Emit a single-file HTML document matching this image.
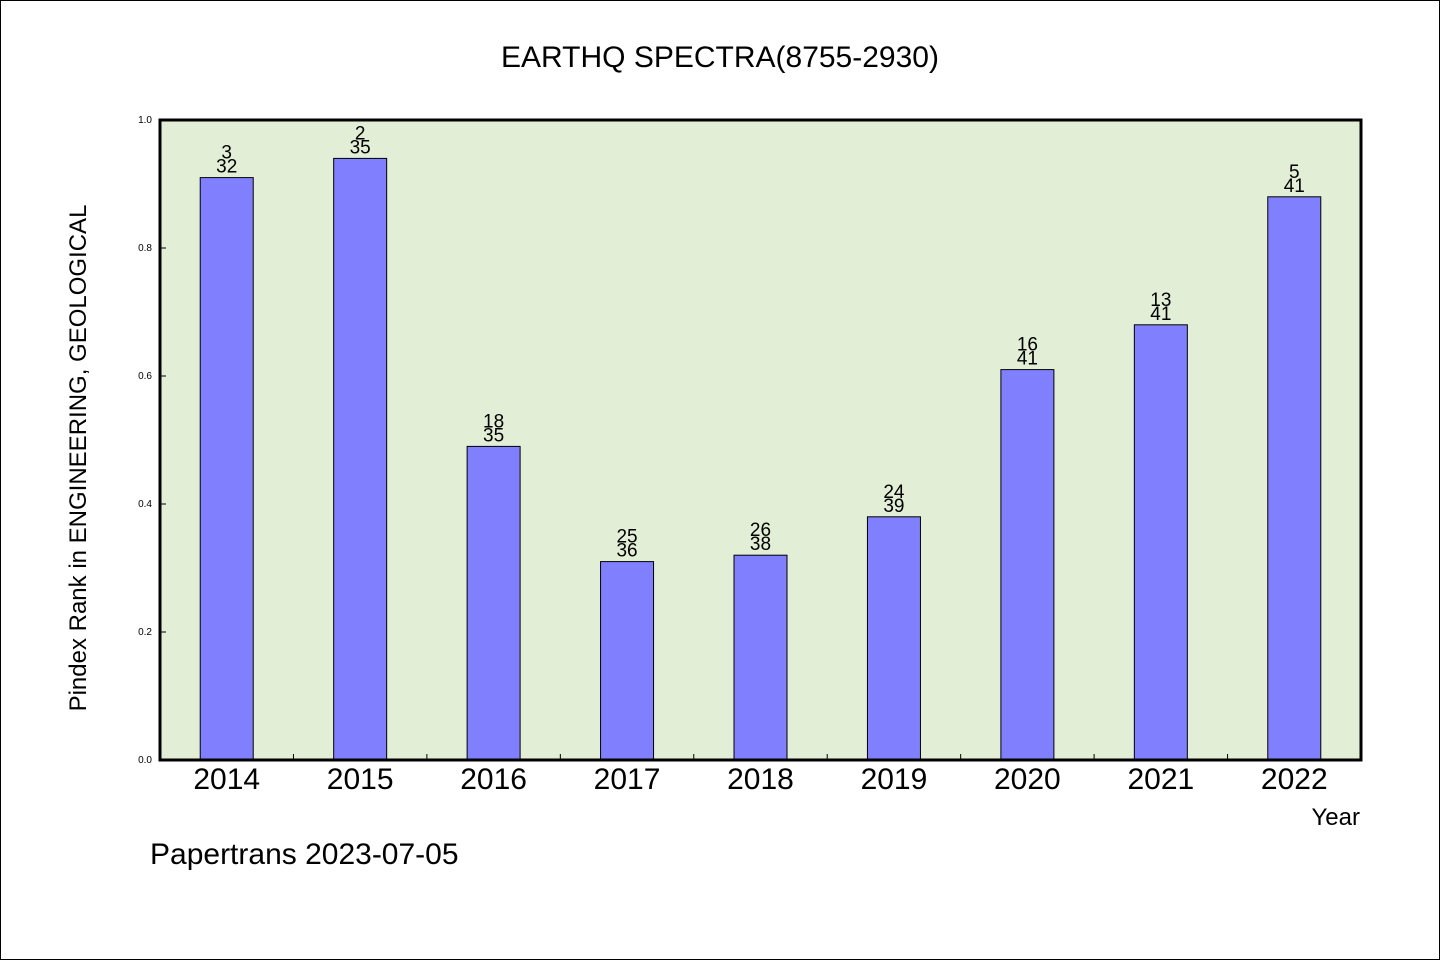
<!DOCTYPE html>
<html><head><meta charset="utf-8"><style>
body{margin:0;background:#fff}
svg text{font-family:"WenQuanYi Zen Hei","Liberation Sans",sans-serif}
</style></head><body>
<svg width="1440" height="960" viewBox="0 0 1440 960">
<rect x="0.5" y="0.5" width="1439" height="959" fill="#fff" stroke="#000"/>
<text x="720" y="67" font-size="30" text-anchor="middle">EARTHQ SPECTRA(8755-2930)</text>
<rect x="160" y="120" width="1201" height="640" fill="#e2efd6"/>
<g id="bars"></g>
<g id="yticks"></g>
<g id="xticks"></g>
<rect x="160" y="120" width="1201" height="640" fill="none" stroke="#000" stroke-width="3"/>
<text transform="translate(86,458) rotate(-90)" font-size="24" text-anchor="middle">Pindex Rank in ENGINEERING, GEOLOGICAL</text>
<text x="1360" y="825" font-size="24" text-anchor="end">Year</text>
<text x="150" y="864" font-size="30">Papertrans 2023-07-05</text>
</svg>
<script>
const categories=["2014","2015","2016","2017","2018","2019","2020","2021","2022"];
const values=[0.91,0.94,0.49,0.31,0.32,0.38,0.61,0.68,0.88];
const ranks=[3,2,18,25,26,24,16,13,5];
const totals=[32,35,35,36,38,39,41,41,41];
const yTicks=[0,0.2,0.4,0.6,0.8,1.0];
const NS="http://www.w3.org/2000/svg";
const x0=160,x1=1361,yT=120,yB=760;
const bw=(x1-x0)/categories.length;
const y=v=>yB-v*(yB-yT);
const xc=i=>x0+bw*(i+0.5);
function mk(t,a,p){const e=document.createElementNS(NS,t);for(const k in a)e.setAttribute(k,a[k]);p.appendChild(e);return e;}
const gb=document.getElementById('bars'),gy=document.getElementById('yticks'),gx=document.getElementById('xticks');
categories.forEach((c,i)=>{
 const r=mk('rect',{x:xc(i)-26.5,y:y(values[i]),width:53,height:yB-y(values[i]),fill:'#8080ff',stroke:'#000','stroke-width':1},gb);
 
 
 const t1=mk('text',{x:xc(i),y:y(values[i])-19,'font-size':19,'text-anchor':'middle'},gb);t1.textContent=ranks[i];
 
 
 const t2=mk('text',{x:xc(i),y:y(values[i])-5,'font-size':19,'text-anchor':'middle'},gb);t2.textContent=totals[i];
 
 
 const tl=mk('text',{x:xc(i),y:789,'font-size':30,'text-anchor':'middle'},gx);tl.textContent=c;
 
 
 if(i>0){const l=mk('line',{x1:x0+bw*i,x2:x0+bw*i,y1:yB,y2:yB-6,stroke:'#000'},gx);
 
 }
});
yTicks.forEach(v=>{
 const l=mk('line',{x1:x0,x2:x0+6,y1:y(v),y2:y(v),stroke:'#000'},gy);
 
 
 const t=mk('text',{x:152,y:y(v)+3,'font-size':10,'text-anchor':'end'},gy);t.textContent=v.toFixed(1);
 
 
});
</script>
</body></html>
